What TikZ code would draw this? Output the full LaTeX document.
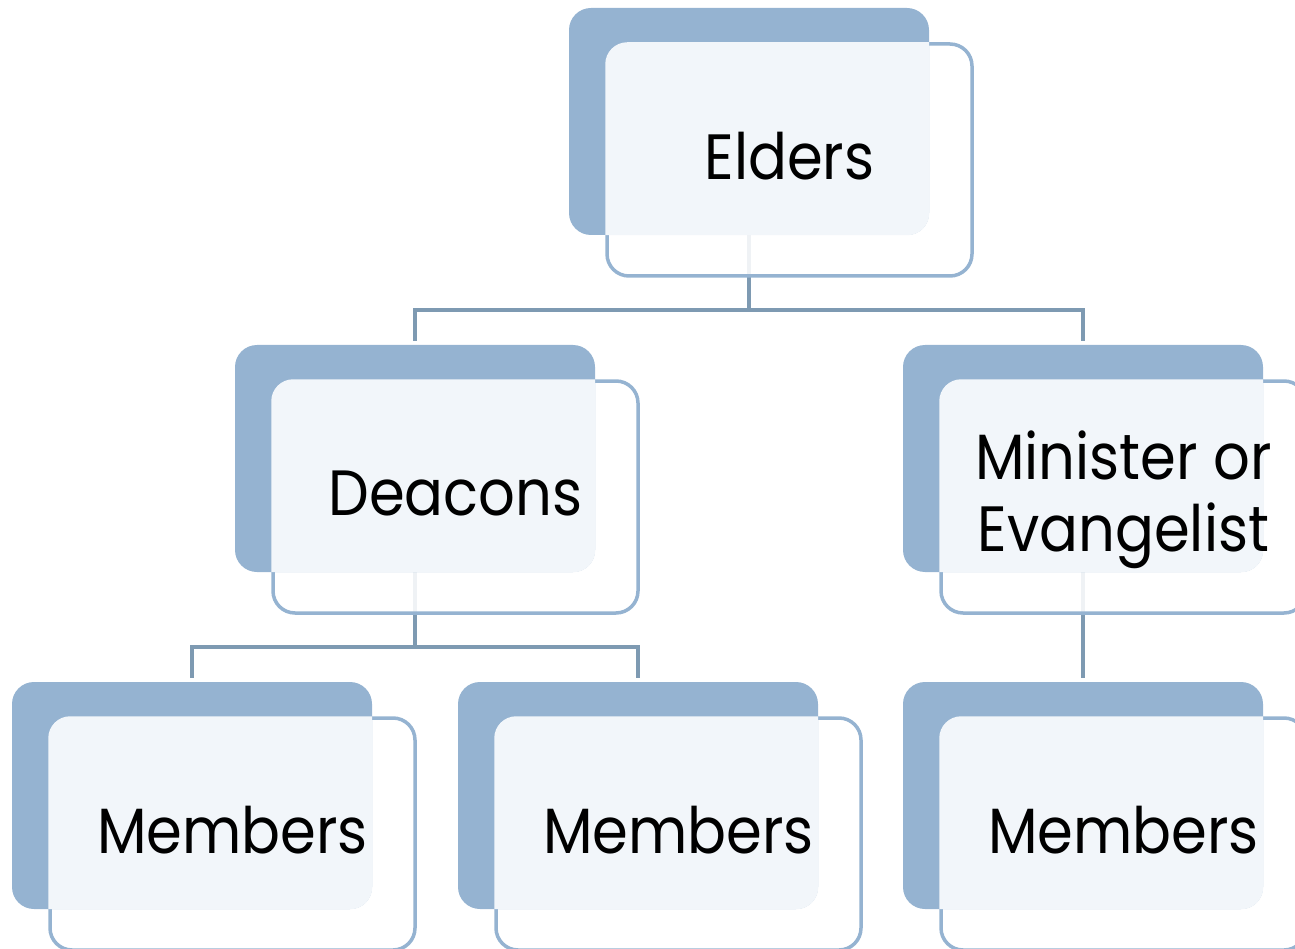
\documentclass[tikz,border=0pt]{standalone}
\usepackage{fontspec}
\setmainfont[FakeStretch=0.9]{Poppins}
\usetikzlibrary{backgrounds}
\definecolor{backblue}{HTML}{95B3D1}
\definecolor{connblue}{HTML}{7E9AB2}
\definecolor{lightov}{HTML}{F2F6FA}
\tikzset{
  backbox/.style={fill=backblue, rounded corners=22pt, minimum width=360pt, minimum height=227pt, inner sep=0pt, draw=none},
  frontbox/.style={fill=white, fill opacity=0.88, draw=backblue, line width=3.5pt, rounded corners=22pt, minimum width=365pt, minimum height=232pt, inner sep=0pt},
  conn/.style={draw=connblue, line width=3.5pt},
  label/.style={font=\fontsize{64}{72}\selectfont, text=black, align=center, inner sep=0pt}
}
\newcommand\orgbox[5][4pt]{%
  \node[frontbox] (#2f) at (#3+220.5,#4+152) {};
  \node[backbox] (#2) at (#3+180,#4+113.5) {};
  \begin{scope}
    \clip[rounded corners=22pt] (#2.south west) rectangle (#2.north east);
    \fill[lightov, rounded corners=22pt] (#2f.south west) rectangle (#2f.north east);
  \end{scope}
  \node[label] (#2t) at ([yshift=#1]#2f.center) {#5};
}
\begin{document}
\begin{tikzpicture}[x=1pt,y=-1pt]
\useasboundingbox (0,0) rectangle (1295,949);
\orgbox{el}{569}{8}{Elders}
\orgbox{de}{235}{345}{Deacons}
\orgbox[-3pt]{mi}{903}{345}{Minister or\\Evangelist}
\orgbox{ma}{12}{682}{Members}
\orgbox{mb}{458}{682}{Members}
\orgbox{mc}{903}{682}{Members}
\begin{scope}[on background layer]
  \draw[conn, shorten >=4pt] (el.south) -- ++(0,75) -| (de.north);
  \draw[conn, shorten >=4pt] (el.south) -- ++(0,75) -| (mi.north);
  \draw[conn, shorten >=4pt] (de.south) -- ++(0,75) -| (ma.north);
  \draw[conn, shorten >=4pt] (de.south) -- ++(0,75) -| (mb.north);
  \draw[conn, shorten >=4pt] (mi.south) -- (mc.north);
\end{scope}
\end{tikzpicture}
\end{document}
